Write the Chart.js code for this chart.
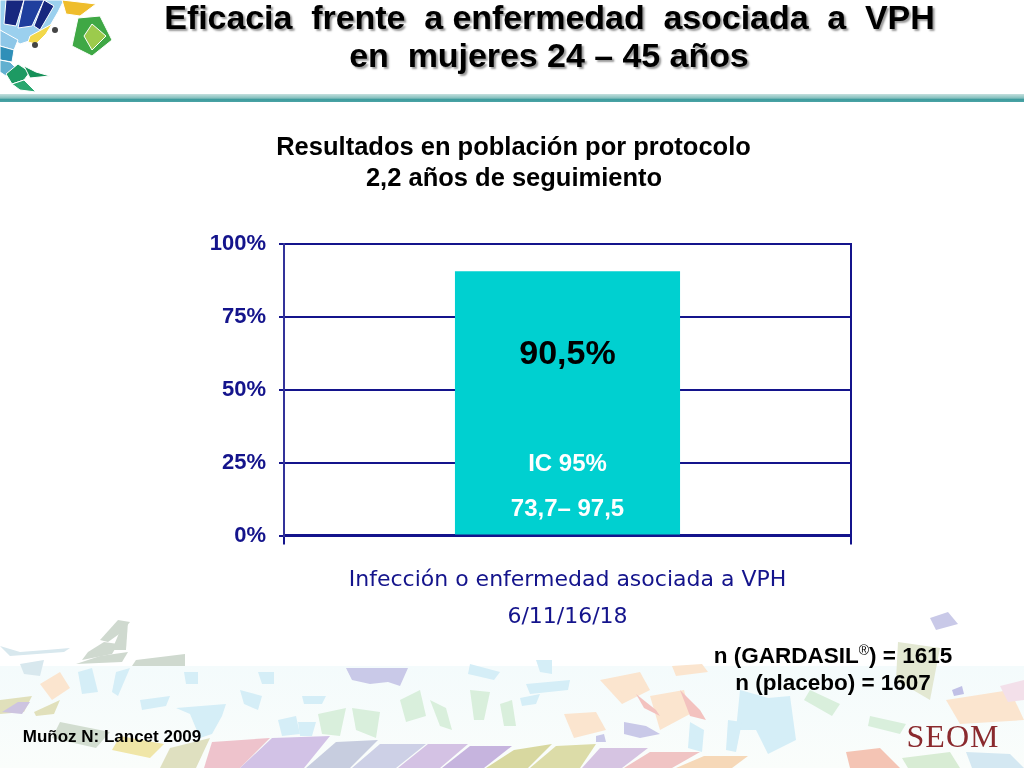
<!DOCTYPE html>
<html lang="es">
<head>
<meta charset="utf-8">
<title>Eficacia frente a enfermedad asociada a VPH</title>
<script src="https://cdn.jsdelivr.net/npm/chart.js@4"></script>
<style>
html, body { margin: 0; padding: 0; background: #fff; }
#page { position: relative; width: 1024px; height: 768px; overflow: hidden; font-family: "Liberation Sans", Arial, sans-serif; font-weight: bold; color: #000; }
#page svg, #page canvas { position: absolute; left: 0; top: 0; }
.txt { position: absolute; white-space: pre; text-align: center; transform: translate(-50%, -50%); }
.title { font-size: 34px; letter-spacing: -0.05px; text-shadow: 2px 2px 2px #999; }
.sub { font-size: 25.5px; }
.n { font-size: 22.5px; }
sup { font-size: 14px; font-weight: normal; line-height: 0; }
#logo polygon { stroke: #fff; stroke-width: 1; }
</style>
</head>
<body>
<div id="page">
<svg width="1024" height="768" viewBox="0 0 1024 768">
  <defs>
    <linearGradient id="rule" x1="0" y1="0" x2="0" y2="1">
      <stop offset="0" stop-color="#c4e0de"/><stop offset="0.55" stop-color="#7fbdbb"/><stop offset="0.6" stop-color="#3c9a9c"/><stop offset="1" stop-color="#4aa3a5"/>
    </linearGradient>
    <linearGradient id="fade" x1="0" y1="0" x2="0" y2="1">
      <stop offset="0" stop-color="#f4fbfc"/><stop offset="1" stop-color="#fafdfb"/>
    </linearGradient>
  </defs>
  <rect x="0" y="94" width="1024" height="8" fill="url(#rule)"/>

  <!-- logo top left -->
  <g id="logo">
    <polygon points="0,0 64,0 58,12 44,36 20,44 0,30" fill="#9bd0ee"/>
    <polygon points="6,0 24,0 16,26 4,24" fill="#17287f"/>
    <polygon points="24,0 44,0 32,26 18,28" fill="#1f3f9e"/>
    <polygon points="44,0 54,6 40,30 34,26" fill="#17287f"/>
    <polygon points="0,30 18,40 14,50 0,46" fill="#8ec7e8"/>
    <polygon points="0,46 14,50 12,62 0,60" fill="#2f8fb8"/>
    <polygon points="0,60 10,62 16,68 6,76 0,72" fill="#62b0d0"/>
    <polygon points="6,74 18,64 30,72 24,80 12,84" fill="#1d9a63"/>
    <polygon points="24,66 36,72 50,76 30,78" fill="#159058"/>
    <polygon points="12,84 24,80 36,92 20,90" fill="#2aa870"/>
    <polygon points="30,36 52,24 46,34 36,44 28,42" fill="#f2d84a"/>
    <polygon points="62,0 96,4 80,16 66,14" fill="#efbd2c"/>
    <polygon points="78,18 100,16 112,40 92,56 72,46" fill="#3fa845"/>
    <polygon points="92,24 106,36 92,50 84,36" fill="#9ccb4c"/>
  </g>
  <circle cx="35" cy="45" r="3" fill="#444"/><circle cx="55" cy="30" r="3" fill="#444"/>

  <!-- bottom mosaic -->
  <rect x="0" y="666" width="1024" height="102" fill="url(#fade)"/>
  <g fill="#cfd9cf">
    <polygon points="100,640 118,620 130,622 122,632 108,642"/>
    <polygon points="88,652 104,642 118,644 112,654 82,660"/>
    <polygon points="76,664 100,656 128,652 122,662"/>
    <polygon points="136,660 185,654 185,666 132,666"/>
    <polygon points="122,626 128,622 126,650 112,650"/>
  </g>
  <g fill="#d8e8ee">
    <polygon points="0,646 20,652 46,650 70,648 64,652 10,656"/>
    <polygon points="20,664 44,660 40,676 24,674"/>
  </g>
  <g fill="#d5eef7">
    <polygon points="78,672 92,668 98,692 82,694"/><polygon points="116,672 130,668 118,696 112,692"/>
    <polygon points="184,672 198,672 198,684 186,684"/><polygon points="258,672 274,672 274,684 262,684"/>
    <polygon points="176,708 226,704 222,716 212,734 200,738 190,714"/><polygon points="278,720 296,716 300,734 282,736"/>
    <polygon points="298,722 316,722 312,736 300,736"/><polygon points="302,696 326,696 322,704 304,704"/>
    <polygon points="526,684 570,680 568,690 530,694"/><polygon points="536,660 552,660 552,674 540,672"/>
    <polygon points="740,690 768,698 790,696 796,740 768,754 756,730 736,730"/>
    <polygon points="728,720 742,722 736,752 726,750"/><polygon points="690,722 704,730 702,752 688,748"/>
    <polygon points="140,700 170,696 166,706 142,710"/><polygon points="240,690 262,696 258,710 244,704"/>
    <polygon points="520,698 540,694 536,704 522,706"/><polygon points="470,664 500,672 494,680 468,674"/>
  </g>
  <g fill="#c9c9e8">
    <polygon points="346,668 408,668 400,686 388,682 370,684 352,680"/>
    <polygon points="624,722 646,726 660,734 640,738 624,734"/>
    <polygon points="596,736 604,734 606,742 596,742"/>
    <polygon points="930,618 948,612 958,624 936,630"/>
    <polygon points="952,690 962,686 964,694 954,696" fill="#c0c0e6"/>
  </g>
  <g fill="#d9efdc">
    <polygon points="430,700 446,708 452,730 440,726"/><polygon points="318,714 346,708 340,736 322,734"/>
    <polygon points="470,690 490,692 484,720 474,720"/><polygon points="352,708 380,712 376,738 356,730"/>
    <polygon points="810,690 840,704 832,716 804,700"/><polygon points="870,716 906,724 900,734 868,726"/>
    <polygon points="898,642 940,648 930,700 896,680" fill="#e3e8d2"/>
    <polygon points="400,700 420,690 426,716 406,722"/><polygon points="500,704 512,700 516,726 504,726"/>
  </g>
  <g fill="#fbe5cf">
    <polygon points="600,680 640,672 650,690 622,704"/><polygon points="650,696 684,690 690,714 660,730"/>
    <polygon points="564,714 596,712 606,730 574,738"/><polygon points="672,666 702,664 708,672 676,676"/>
    <polygon points="946,700 1010,690 1024,720 960,724"/>
    <polygon points="40,684 60,672 70,688 52,700"/>
  </g>
  <polygon points="680,690 700,710 706,720 690,716" fill="#f3c2bf"/>
  <polygon points="636,694 656,710 660,716 644,708" fill="#f3c2bf"/>
  <polygon points="1000,686 1024,680 1024,700 1008,702" fill="#f3e0ea"/>
  <g fill="#d8d5a0" opacity="0.7">
    <polygon points="0,700 32,696 24,712 0,714"/><polygon points="34,712 60,700 54,714 36,716"/>
  </g>
  <polygon points="2,712 18,702 30,702 22,714" fill="#cdc4e0"/>
  <!-- lower band of tiles -->
  <g>
    <polygon points="60,722 110,732 96,748 52,738" fill="#d2ddd0"/>
    <polygon points="120,736 164,744 150,758 112,750" fill="#f0e6a8"/>
    <polygon points="170,748 210,738 196,768 160,768" fill="#dfe0c0"/>
    <polygon points="212,742 270,738 240,768 204,768" fill="#eec3cc"/>
    <polygon points="272,738 330,736 304,768 240,768" fill="#d2c2e6"/>
    <polygon points="336,742 378,740 350,768 306,768" fill="#c7cddf"/>
    <polygon points="380,744 426,744 396,768 352,768" fill="#cdd0e6"/>
    <polygon points="428,744 468,744 440,768 398,768" fill="#d4c2e4"/>
    <polygon points="470,746 512,746 484,768 442,768" fill="#c6b4de"/>
    <polygon points="514,750 552,744 528,768 486,768" fill="#d8d8a0"/>
    <polygon points="556,746 596,744 580,768 530,768" fill="#dcdca8"/>
    <polygon points="600,748 648,748 622,768 582,768" fill="#d6c4e2"/>
    <polygon points="650,752 700,752 672,768 624,768" fill="#f0c4c4"/>
    <polygon points="704,756 748,756 732,768 676,768" fill="#f6d8b8"/>
    <polygon points="846,752 880,748 900,768 850,768" fill="#f4c4b4"/>
    <polygon points="902,758 950,752 960,768 908,768" fill="#d8ecd4"/>
    <polygon points="966,752 1010,754 1024,768 972,768" fill="#d4e8f2"/>
  </g>
</svg>

<canvas id="chart" width="1024" height="768"></canvas>

<div class="txt title" style="left:549.5px;top:17px">Eficacia  frente  a enfermedad  asociada  a  VPH</div>
<div class="txt title" style="left:549px;top:55px">en  mujeres 24 – 45 años</div>
<div class="txt sub" style="left:513.5px;top:146px">Resultados en población por protocolo</div>
<div class="txt sub" style="left:514px;top:177px">2,2 años de seguimiento</div>
<div class="txt n" style="left:833px;top:656px">n (GARDASIL<sup>®</sup>) = 1615</div>
<div class="txt n" style="left:833px;top:683px">n (placebo) = 1607</div>
<div class="txt" style="left:112px;top:737px;font-size:17px">Muñoz N: Lancet 2009</div>
<div class="txt" style="left:953px;top:736px;font-family:'Liberation Serif',serif;font-weight:normal;font-size:32px;color:#8a2a2e;letter-spacing:1px">SEOM</div>
</div>

<script>
const categories = [['Infección o enfermedad asociada a VPH', '6/11/16/18']];
const efficacy = [90.5];
const yTicks = [0, 25, 50, 75, 100];

const navy = '#14148c';

// texts sitting on the bar, placed at y axis values
const barLabels = [
    { text: '90,5%', at: 62, color: '#000', font: 'bold 34px "Liberation Sans"' },
    { text: 'IC 95%', at: 24.2, color: '#fff', font: 'bold 24px "Liberation Sans"' },
    { text: '73,7– 97,5', at: 9.1, color: '#fff', font: 'bold 24px "Liberation Sans"' }
];

const barLabelPlugin = {
    id: 'barLabels',
    afterDatasetsDraw(chart) {
        const ctx = chart.ctx;
        const bar = chart.getDatasetMeta(0).data[0];
        ctx.save();
        ctx.textAlign = 'center';
        ctx.textBaseline = 'middle';
        barLabels.forEach(label => {
            ctx.font = label.font;
            ctx.fillStyle = label.color;
            ctx.fillText(label.text, bar.x, chart.scales.y.getPixelForValue(label.at));
        });
        ctx.restore();
    }
};

new Chart(document.getElementById('chart').getContext('2d'), {
    type: 'bar',
    data: {
        labels: categories,
        datasets: [{
            label: 'Eficacia',
            data: efficacy,
            backgroundColor: '#00d0d0',
            barPercentage: 1,
            categoryPercentage: 0.397
        }]
    },
    plugins: [barLabelPlugin],
    options: {
        responsive: false,
        animation: false,
        layout: { padding: { left: 0, right: 173, top: 243.5, bottom: 0 } },
        plugins: { legend: { display: false }, tooltip: { enabled: false }, title: { display: false } },
        scales: {
            x: {
                afterFit: scale => { scale.height = 232.5; },
                grid: { drawOnChartArea: false, drawTicks: true, tickLength: 9, color: navy, lineWidth: 2, offset: true },
                border: { display: true, color: navy, width: 3 },
                ticks: {
                    color: navy,
                    padding: 17,
                    maxRotation: 0,
                    font: { family: '"DejaVu Sans"', size: 22, lineHeight: 1.68 }
                }
            },
            y: {
                min: 0,
                max: 100,
                afterFit: scale => { scale.width = 284; },
                afterBuildTicks: scale => { scale.ticks = yTicks.map(value => ({ value })); },
                grid: { color: navy, lineWidth: 2, tickLength: 5 },
                border: { display: true, color: '#33339a', width: 2 },
                ticks: {
                    color: navy,
                    padding: 13,
                    font: { family: '"Liberation Sans"', size: 22, weight: 'bold' },
                    callback: value => value + '%'
                }
            },
            yRight: {
                position: 'right',
                min: 0,
                max: 100,
                afterFit: scale => { scale.width = 0; },
                grid: { display: false },
                border: { display: true, color: navy, width: 2 },
                ticks: { display: false }
            }
        }
    }
});
</script>
</body>
</html>
